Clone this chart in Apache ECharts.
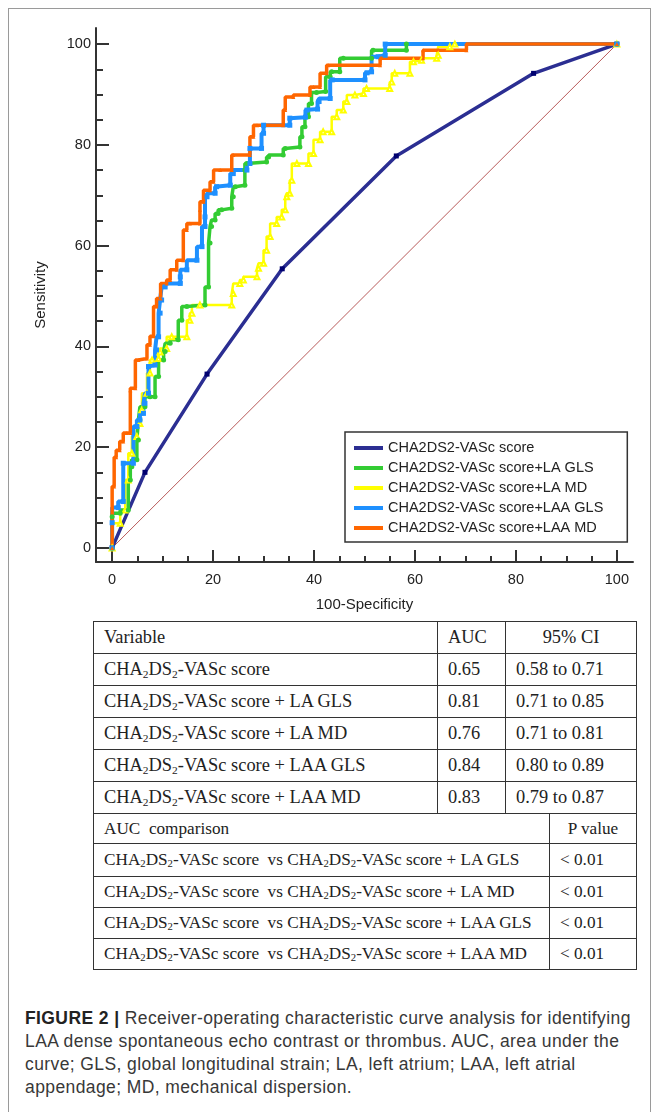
<!DOCTYPE html>
<html>
<head>
<meta charset="utf-8">
<title>ROC curve analysis</title>
<script src="https://cdn.jsdelivr.net/npm/echarts@6/dist/echarts.min.js"></script>
<style>
html, body { margin: 0; padding: 0; background: #fff; }
#page { position: relative; width: 659px; height: 1114px; overflow: hidden; }
#frame { position: absolute; left: 8px; top: 8px; width: 643px; height: 1104px; border: 1px solid #9a9a9a; border-bottom: none; box-sizing: border-box; pointer-events: none; }
#chart { position: absolute; left: 0; top: 0; width: 659px; height: 620px; }
#tbl { position: absolute; left: 93px; top: 621px; width: 543px; border-collapse: collapse; table-layout: fixed;
  font-family: 'Liberation Serif', 'Times New Roman', serif; font-size: 18.4px; color: #222; }
#tbl td { border: 1px solid #333; padding: 0 0 0 10px; white-space: pre; overflow: hidden; }
#tbl td.c { text-align: center; padding: 0; }
#tbl tr.cmp td { font-size: 17.2px; }
#tbl sub { font-size: 0.62em; vertical-align: -0.22em; line-height: 0; }
#caption { position: absolute; left: 25px; top: 1007px; font-family: 'Liberation Sans', Arial, sans-serif;
  font-size: 17.5px; letter-spacing: 0.4px; line-height: 23px; color: #383838; white-space: nowrap; }
#caption b { color: #222; }
</style>
</head>
<body>
<div id="page">
  <div id="chart"></div>
  <table id="tbl"></table>
  <div id="caption"><b>FIGURE 2 |</b> Receiver-operating characteristic curve analysis for identifying<br>LAA dense spontaneous echo contrast or thrombus. AUC, area under the<br>curve; GLS, global longitudinal strain; LA, left atrium; LAA, left atrial<br>appendage; MD, mechanical dispersion.</div>
  <div id="frame"></div>
</div>
<script>
// series names
var seriesNames = [
  'CHA2DS2-VASc score',
  'CHA2DS2-VASc score+LA GLS',
  'CHA2DS2-VASc score+LA MD',
  'CHA2DS2-VASc score+LAA GLS',
  'CHA2DS2-VASc score+LAA MD'
]

// ROC points [100-specificity, sensitivity]
var scorePts = [[0, 0], [6.5, 15], [18.8, 34.5], [33.7, 55.4], [56.3, 77.8], [83.5, 94.2], [100, 100]]

var laGlsPts = [[0, 0], [0, 6.2], [1.6, 6.9], [3.2, 7.5], [3.6, 13.5], [3.9, 16.1], [4.9, 17.5], [5.2, 21.4],
  [5.5, 25.4], [6.5, 28.0], [7.5, 30.0], [8.5, 30.0], [9.2, 34.0], [10.2, 37.3], [10.5, 39.0], [11.5, 40.6],
  [13.1, 41.3], [13.8, 45.2], [14.8, 47.9], [18.4, 48.2], [19.1, 51.8], [19.4, 60.5], [19.7, 63.8], [20.4, 65.1],
  [21.0, 66.4], [21.7, 67.1], [23.7, 67.4], [24.0, 69.7], [24.4, 71.7], [26.3, 72.0], [26.3, 75.0], [26.7, 76.3],
  [30.6, 76.6], [31.0, 77.6], [33.9, 78.0], [34.3, 79.3], [37.2, 79.6], [37.6, 81.6], [38.2, 83.6], [38.9, 85.6],
  [39.5, 88.2], [40.5, 90.4], [42.3, 90.6], [43.2, 93.5], [43.5, 94.5], [45.1, 94.5], [45.8, 97.2], [51.4, 97.2],
  [51.7, 98.8], [58.3, 98.8], [58.3, 100], [100, 100]]

var laMdPts = [[0, 0], [1.6, 4.9], [2.6, 7.5], [3.2, 13.5], [3.9, 18.8], [4.9, 22.1], [5.5, 24.7], [5.9, 27.4],
  [6.9, 30.7], [7.5, 34.7], [7.9, 37.3], [9.2, 37.6], [9.5, 38.9], [10.8, 39.6], [11.8, 41.9], [14.8, 41.9],
  [15.4, 45.2], [15.8, 46.6], [17.4, 48.2], [23.7, 48.2], [24.0, 50.5], [25.3, 52.5], [26.0, 53.2], [28.7, 53.8],
  [29.0, 55.5], [30.0, 56.5], [30.6, 59.1], [31.3, 61.8], [32.6, 64.4], [33.6, 65.7], [34.3, 67.1], [34.6, 69.7],
  [35.2, 70.4], [35.6, 73.0], [36.6, 76.3], [38.9, 76.3], [39.9, 78.3], [41.2, 81.0], [41.8, 82.6], [43.5, 82.6],
  [44.5, 85.6], [45.8, 86.9], [46.5, 88.6], [48.1, 89.9], [49.8, 90.2], [50.4, 91.2], [55.0, 91.2], [55.4, 92.5],
  [56.0, 94.2], [59.0, 94.2], [59.7, 96.5], [61.3, 96.8], [64.3, 97.2], [64.6, 97.8], [66.9, 99.5], [67.9, 100],
  [100, 100]]

var laaGlsPts = [[0, 0], [0, 5], [1.2, 8], [2.2, 9.2], [2.2, 16.8], [4.2, 16.8], [4.9, 24.1], [5.5, 25.4],
  [6.2, 26.7], [6.5, 28.7], [7.2, 30.7], [7.2, 36.0], [8.5, 36.3], [8.8, 39.3], [9.2, 41.9], [9.5, 46.6],
  [9.8, 49.2], [10.5, 51.8], [13.5, 52.5], [13.5, 53.8], [14.8, 55.2], [16.8, 57.1], [17.8, 59.8], [18.4, 63.8],
  [18.4, 65.7], [18.8, 69.7], [20.4, 70.4], [20.7, 71.7], [23.4, 72.0], [24.0, 74.3], [26.7, 75.0], [27.3, 76.3],
  [27.3, 79.3], [29.6, 79.3], [30.0, 82.3], [30.0, 83.9], [35.2, 83.9], [35.2, 85.3], [38.3, 85.5], [38.6, 86.9],
  [40.7, 87.1], [41.0, 88.6], [43.2, 89.2], [43.6, 92.9], [50.1, 92.9], [50.5, 94.3], [51.4, 94.5], [52.7, 97.5],
  [54.1, 97.8], [54.1, 100], [100, 100]]

var laaMdPts = [[0, 0], [0.4, 12.2], [0.8, 18], [1.5, 19.4], [2.2, 21.1], [2.9, 22.8], [3.6, 22.8], [3.6, 31.3],
  [4.6, 31.7], [5.2, 37.3], [6.9, 37.6], [7.5, 40.3], [8.2, 42], [8.8, 47.9], [9.6, 49.5], [10.8, 52.5],
  [11.5, 53.2], [12.8, 55.2], [14.1, 57.1], [14.8, 63.1], [15.4, 64.4], [17.4, 64.4], [17.4, 67.1], [18.1, 68.7],
  [19.4, 71.0], [20.1, 72.7], [21.4, 75.0], [23.7, 75.0], [24.0, 78.0], [27.3, 78.0], [28.0, 81.6], [28.7, 83.9],
  [33.9, 83.9], [34.3, 86.9], [35.9, 89.5], [39.2, 89.9], [39.9, 91.5], [41.2, 91.5], [42.5, 94.2], [42.8, 95.8],
  [53.1, 95.8], [53.1, 97.2], [61.6, 97.2], [61.6, 98.8], [70.2, 98.8], [70.2, 100], [100, 100]]

var chancePts = [[0, 0], [100, 100]]

var majorTicks = [0, 20, 40, 60, 80, 100]
var minorTicks = [5, 10, 15, 25, 30, 35, 45, 50, 55, 65, 70, 75, 85, 90, 95]

// table values
var variables = [
  'CHA2DS2-VASc score',
  'CHA2DS2-VASc score + LA GLS',
  'CHA2DS2-VASc score + LA MD',
  'CHA2DS2-VASc score + LAA GLS',
  'CHA2DS2-VASc score + LAA MD'
]
var aucValues = ['0.65', '0.81', '0.76', '0.84', '0.83']
var ciValues = ['0.58 to 0.71', '0.71 to 0.85', '0.71 to 0.81', '0.80 to 0.89', '0.79 to 0.87']
var comparisons = [
  'CHA2DS2-VASc score  vs CHA2DS2-VASc score + LA GLS',
  'CHA2DS2-VASc score  vs CHA2DS2-VASc score + LA MD',
  'CHA2DS2-VASc score  vs CHA2DS2-VASc score + LAA GLS',
  'CHA2DS2-VASc score  vs CHA2DS2-VASc score + LAA MD'
]
var pValues = ['< 0.01', '< 0.01', '< 0.01', '< 0.01']

// ---- table ----
function esc (s) {
  return s.replace(/&/g, '&amp;').replace(/</g, '&lt;').replace(/>/g, '&gt;')
}
function chem (s) {
  return esc(s).replace(/CHA2DS2/g, 'CHA<sub>2</sub>DS<sub>2</sub>')
}
function buildTable () {
  var rows = []
  rows.push('<colgroup><col style="width:344px"><col style="width:68px"><col style="width:44px"><col style="width:87px"></colgroup>')
  rows.push('<tr style="height:32px"><td>Variable</td><td>AUC</td><td class="c" colspan="2">95% CI</td></tr>')
  variables.forEach(function (v, i) {
    rows.push('<tr style="height:32px"><td>' + chem(v) + '</td><td>' + aucValues[i] + '</td><td colspan="2">' + ciValues[i] + '</td></tr>')
  })
  rows.push('<tr class="cmp" style="height:30px"><td colspan="3">AUC  comparison</td><td class="c">P value</td></tr>')
  var h = [33, 31, 31, 31]
  comparisons.forEach(function (c, i) {
    rows.push('<tr class="cmp" style="height:' + h[i] + 'px"><td colspan="3">' + chem(c) + '</td><td>' + esc(pValues[i]) + '</td></tr>')
  })
  document.getElementById('tbl').innerHTML = rows.join('')
}
buildTable()

// ---- chart ----
var chart = echarts.init(document.getElementById('chart'))

function rocSeries (name, data, color, width, symbol, size) {
  return {
    name: name,
    type: 'line',
    data: data,
    step: 'start',
    symbol: symbol,
    symbolSize: size,
    showSymbol: true,
    lineStyle: { color: color, width: width },
    itemStyle: { color: color },
    emphasis: { disabled: true }
  }
}

var axisFont = { fontFamily: 'Liberation Sans', fontSize: 14.5, color: '#222' }

var option = {
  animation: false,
  grid: { left: 96, right: 26, top: 28, bottom: 58 },
  legend: {
    orient: 'vertical',
    left: 345,
    top: 432,
    padding: [8, 24, 6, 9],
    itemWidth: 29,
    itemHeight: 4,
    itemGap: 4,
    icon: 'rect',
    backgroundColor: '#fff',
    borderColor: '#333',
    borderWidth: 1.5,
    borderRadius: 0,
    textStyle: { fontFamily: 'Liberation Sans', fontSize: 14.5, color: '#222', lineHeight: 16 },
    data: [
      { name: seriesNames[0], itemStyle: { color: '#2b2e92' } },
      seriesNames[1], seriesNames[2], seriesNames[3], seriesNames[4]
    ]
  },
  xAxis: [
    {
      type: 'value',
      min: -3.2,
      max: 103.2,
      position: 'bottom',
      name: '100-Specificity',
      nameLocation: 'middle',
      nameGap: 35,
      nameTextStyle: { fontFamily: 'Liberation Sans', fontSize: 15, color: '#222' },
      axisLine: { show: true, onZero: false, lineStyle: { color: '#333', width: 2 } },
      axisTick: { show: true, inside: true, length: 12, customValues: majorTicks, lineStyle: { color: '#333', width: 2 } },
      axisLabel: Object.assign({ customValues: majorTicks, margin: 10 }, axisFont),
      splitLine: { show: false }
    },
    {
      type: 'value',
      min: -3.2,
      max: 103.2,
      position: 'bottom',
      axisLine: { show: false, onZero: false },
      axisTick: { show: true, inside: true, length: 6, customValues: minorTicks, lineStyle: { color: '#333', width: 2 } },
      axisLabel: { show: false },
      splitLine: { show: false }
    }
  ],
  yAxis: [
    {
      type: 'value',
      min: -2.8,
      max: 103.2,
      position: 'left',
      name: 'Sensitivity',
      nameLocation: 'middle',
      nameGap: 48,
      nameTextStyle: { fontFamily: 'Liberation Sans', fontSize: 15, color: '#222' },
      axisLine: { show: true, onZero: false, lineStyle: { color: '#333', width: 2 } },
      axisTick: { show: true, inside: true, length: 13, customValues: majorTicks, lineStyle: { color: '#333', width: 2 } },
      axisLabel: Object.assign({ customValues: majorTicks, margin: 5 }, axisFont),
      splitLine: { show: false }
    },
    {
      type: 'value',
      min: -2.8,
      max: 103.2,
      position: 'left',
      axisLine: { show: false, onZero: false },
      axisTick: { show: true, inside: true, length: 7, customValues: minorTicks, lineStyle: { color: '#333', width: 2 } },
      axisLabel: { show: false },
      splitLine: { show: false }
    }
  ],
  series: [
    {
      name: 'chance',
      type: 'line',
      data: chancePts,
      symbol: 'none',
      silent: true,
      lineStyle: { color: '#b85a5a', width: 1 }
    },
    {
      name: seriesNames[0],
      type: 'line',
      data: scorePts,
      symbol: 'rect',
      symbolSize: 5,
      lineStyle: { color: '#2b2e92', width: 3.5 },
      itemStyle: { color: '#000070' },
      emphasis: { disabled: true }
    },
    rocSeries(seriesNames[2], laMdPts, '#ffff00', 2.5, 'emptyTriangle', 5),
    rocSeries(seriesNames[1], laGlsPts, '#33cc33', 3.5, 'circle', 5),
    rocSeries(seriesNames[3], laaGlsPts, '#1e90ff', 4, 'rect', 5),
    rocSeries(seriesNames[4], laaMdPts, '#ff6600', 3.5, 'triangle', 4)
  ]
}

chart.setOption(option)
</script>
</body>
</html>
